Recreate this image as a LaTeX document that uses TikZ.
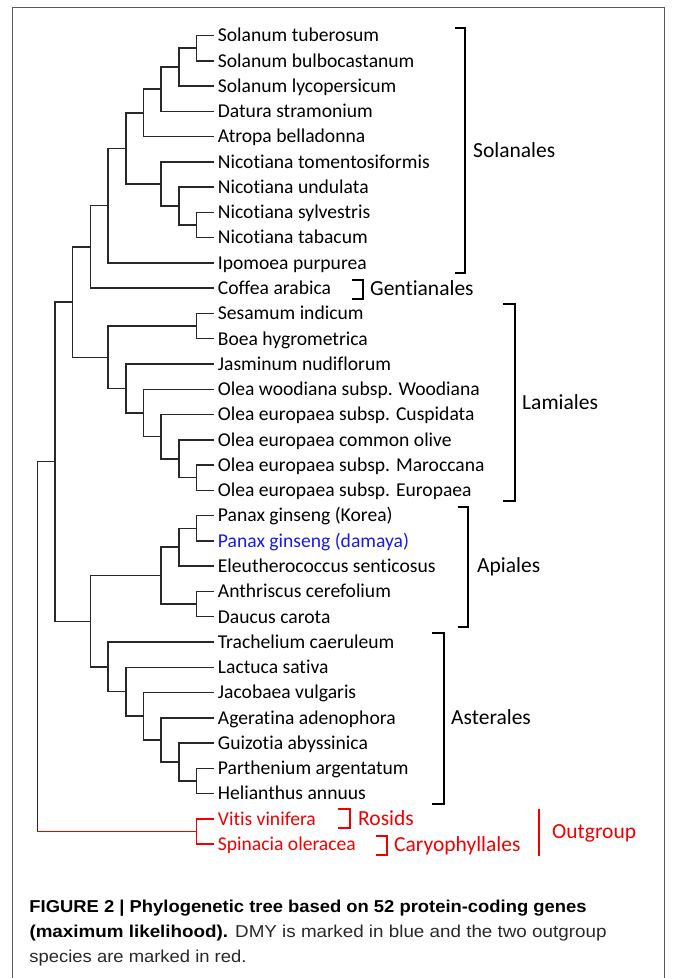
\documentclass[tikz,border=0pt]{standalone}
\usepackage{fontspec}
\usepackage{graphicx}
\setmainfont{Carlito}[Ligatures=NoCommon]
\newfontfamily\capfont{Liberation Sans}
\usetikzlibrary{calc}
\definecolor{tred}{RGB}{240,0,0}
\definecolor{tblue}{RGB}{25,25,240}
\definecolor{tline}{RGB}{40,40,40}
\definecolor{framec}{RGB}{90,90,90}
\definecolor{capgray}{RGB}{40,40,40}
\newcommand\clade[5][]{%
  \path let \p1=(#4), \p2=(#5) in ({(214.3-17.7*#3)*1pt},{0.5*(\y1+\y2)}) coordinate (#2);
  \draw[br,#1] (#2) |- (#4);
  \draw[br,#1] (#2) |- (#5);}
\begin{document}
\begin{tikzpicture}[x=1pt,y=-1pt,
  br/.style={line width=1.5pt, draw=tline, line join=miter},
  brk/.style={line width=2.8pt, line join=miter},
  leaf/.style={anchor=base west, inner sep=0pt, font=\fontsize{19.6}{22}\selectfont},
  grp/.style={anchor=base west, inner sep=0pt, font=\fontsize{21.5}{24}\selectfont},
  captext/.style={anchor=base west, inner sep=0pt, font=\capfont\fontsize{17.2}{20}\selectfont},
  framel/.style={line width=1.2pt, draw=framec}]
\useasboundingbox (0,0) rectangle (673,978);
\draw[framel] (12.3,978) -- (12.3,7.3) -- (664.5,7.3) -- (664.5,978);
% leaves
\foreach \i/\col/\nm in {0/black/Solanum tuberosum, 1/black/Solanum bulbocastanum, 2/black/Solanum lycopersicum, 3/black/Datura stramonium, 4/black/Atropa belladonna, 5/black/Nicotiana tomentosiformis, 6/black/Nicotiana undulata, 7/black/Nicotiana sylvestris, 8/black/Nicotiana tabacum, 9/black/Ipomoea purpurea, 10/black/Coffea arabica, 11/black/Sesamum indicum, 12/black/Boea hygrometrica, 13/black/Jasminum nudiflorum, 14/black/Olea woodiana subsp. Woodiana, 15/black/Olea europaea subsp. Cuspidata, 16/black/Olea europaea common olive, 17/black/Olea europaea subsp. Maroccana, 18/black/Olea europaea subsp. Europaea, 19/black/Panax ginseng (Korea), 20/tblue/Panax ginseng (damaya), 21/black/Eleutherococcus senticosus, 22/black/Anthriscus cerefolium, 23/black/Daucus carota, 24/black/Trachelium caeruleum, 25/black/Lactuca sativa, 26/black/Jacobaea vulgaris, 27/black/Ageratina adenophora, 28/black/Guizotia abyssinica, 29/black/Parthenium argentatum, 30/black/Helianthus annuus, 31/tred/Vitis vinifera, 32/tred/Spinacia oleracea}{
  \coordinate (l\i) at (214.3,{35.5+25.27*\i});
  \node[leaf,text=\col] (t\i) at (217.7,{41.8+25.27*\i}) {\nm};
}
% tree
\clade{W}{1}{l0}{l1}
\clade{Z}{2}{W}{l2}
\clade{Y}{3}{Z}{l3}
\clade{X}{4}{Y}{l4}
\clade{V}{1}{l7}{l8}
\clade{U}{2}{l6}{V}
\clade{Nic}{3}{l5}{U}
\clade{Solc}{5}{X}{Nic}
\clade{Sol}{6}{Solc}{l9}
\clade{SolCof}{7}{Sol}{l10}
\clade{SB}{1}{l11}{l12}
\clade{LLsix}{1}{l17}{l18}
\clade{LLfive}{2}{l16}{LLsix}
\clade{LLfour}{3}{l15}{LLfive}
\clade{LLthree}{4}{l14}{LLfour}
\clade{LLtwo}{5}{l13}{LLthree}
\clade{Lam}{6}{SB}{LLtwo}
\clade{Bn}{8}{SolCof}{Lam}
\clade{Pzero}{1}{l19}{l20}
\clade{Pone}{2}{Pzero}{l21}
\clade{Ptwo}{1}{l22}{l23}
\clade{Api}{3}{Pone}{Ptwo}
\clade{Asix}{1}{l29}{l30}
\clade{Afive}{2}{l28}{Asix}
\clade{Afour}{3}{l27}{Afive}
\clade{Athree}{4}{l26}{Afour}
\clade{Atwo}{5}{l25}{Athree}
\clade{Ast}{6}{l24}{Atwo}
\clade{Cn}{7}{Api}{Ast}
\clade{AAn}{9}{Bn}{Cn}
\clade[draw=tred]{Out}{1}{l31}{l32}
\path let \p1=(AAn), \p2=(Out) in ({(214.3-17.7*10)*1pt},{0.5*(\y1+\y2)}) coordinate (root);
\coordinate (rootcorner) at (root |- Out);
\draw[br] (root) |- (AAn);
\draw[br] (root) -- (rootcorner);
\draw[br,draw=tred] (rootcorner) -- (Out);
% brackets
\draw[brk] (455,28) -- (465,28) -- (465,273) -- (455,273);
\node[grp] (gsol) at (473,157) {Solanales};
\draw[brk] (352,280) -- (363,280) -- (363,299) -- (352,299);
\node[grp] (ggen) at (370,295) {Gentianales};
\draw[brk] (503,304) -- (515,304) -- (515,501) -- (503,501);
\node[grp] (glam) at (522,409) {Lamiales};
\draw[brk] (458,507) -- (468,507) -- (468,627) -- (458,627);
\node[grp] (gapi) at (477,572) {Apiales};
\draw[brk] (432,633) -- (444,633) -- (444,804) -- (432,804);
\node[grp] (gast) at (451,724) {Asterales};
\draw[brk,draw=tred] (338,809) -- (350,809) -- (350,828) -- (338,828);
\node[grp,text=tred] (gros) at (358,825) {Rosids};
\draw[brk,draw=tred] (376,836) -- (387,836) -- (387,855) -- (376,855);
\node[grp,text=tred] (gcar) at (394,851) {Caryophyllales};
\draw[brk,draw=tred] (539,809) -- (539,856);
\node[grp,text=tred] (gout) at (552,838) {Outgroup};
% caption
\node[captext] (cap1) at (29.3,912) {\resizebox{557pt}{\height}{\bfseries FIGURE 2 | Phylogenetic tree based on 52 protein-coding genes}};
\node[captext] (cap2) at (29.3,937) {\resizebox{577pt}{\height}{\textbf{(maximum likelihood).} \color{capgray}DMY is marked in blue and the two outgroup}};
\node[captext] (cap3) at (29.3,962.5) {\resizebox{217pt}{\height}{\color{capgray}species are marked in red.}};
\end{tikzpicture}
\end{document}
